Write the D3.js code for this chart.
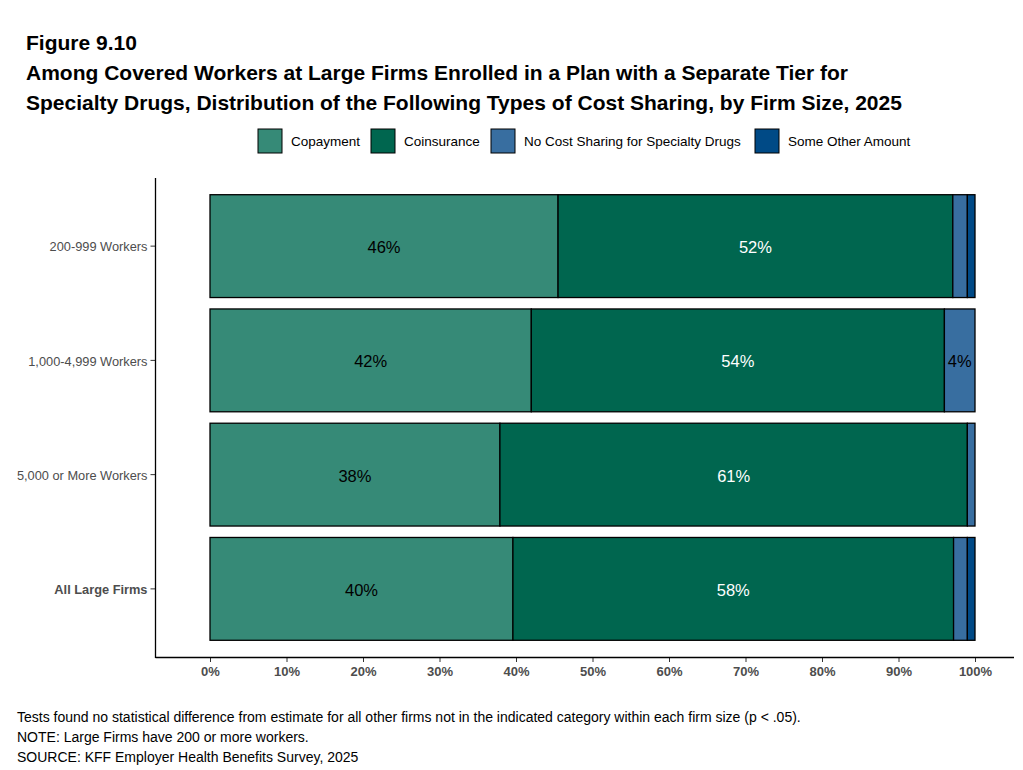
<!DOCTYPE html>
<html><head><meta charset="utf-8">
<script src="https://cdn.jsdelivr.net/npm/d3@7"></script>
<style>body{margin:0;background:#fff;font-family:"Liberation Sans",Arial,sans-serif;}</style>
</head><body><svg id="c" width="1023" height="770"></svg>
<script>
const categories = ["200-999 Workers","1,000-4,999 Workers","5,000 or More Workers","All Large Firms"];
const seriesNames = ["Copayment","Coinsurance","No Cost Sharing for Specialty Drugs","Some Other Amount"];
const copayment = [45.5, 42.0, 37.9, 39.6];
const coinsurance = [51.6, 54.0, 61.1, 57.6];
const noCostSharing = [1.9, 4.0, 1.0, 1.8];
const someOther = [1.0, 0, 0, 1.0];
const xTicks = [0,10,20,30,40,50,60,70,80,90,100];
const colors = ["#368a77","#00664f","#386ea0","#004a86"];
const labelColors = ["#000","#fff","#000","#fff"];

const series = [copayment, coinsurance, noCostSharing, someOther];
const rows = categories.map((c,i)=>{ const o={cat:c}; seriesNames.forEach((s,j)=>o[s]=series[j][i]); return o;});
const stacked = d3.stack().keys(seriesNames)(rows);

const svg = d3.select("#c");
svg.append("text").attr("x",26).attr("y",50).attr("font-size","21px").attr("font-weight","bold").text("Figure 9.10");
svg.append("text").attr("x",26).attr("y",80).attr("font-size","21px").attr("font-weight","bold").text("Among Covered Workers at Large Firms Enrolled in a Plan with a Separate Tier for");
svg.append("text").attr("x",26).attr("y",110).attr("font-size","21px").attr("font-weight","bold").text("Specialty Drugs, Distribution of the Following Types of Cost Sharing, by Firm Size, 2025");

// legend
const legX = [258, 371, 491, 755];
const leg = svg.append("g");
seriesNames.forEach((s,i)=>{
  leg.append("rect").attr("x",legX[i]).attr("y",129).attr("width",24).attr("height",24).attr("fill",colors[i]).attr("stroke","#000").attr("stroke-width",1);
  leg.append("text").attr("x",legX[i]+33).attr("y",146).attr("font-size","13.5px").text(s);
});

const x = d3.scaleLinear().domain([0,100]).range([210,975]);
const y = d3.scaleBand().domain(categories).range([189,646]).paddingInner(0.1).paddingOuter(0.05);

const g = svg.append("g");
stacked.forEach((layer,j)=>{
  g.selectAll(null).data(layer).enter().filter(d=>d[1]-d[0]>0).append("rect")
    .attr("x",d=>x(d[0])).attr("y",d=>y(d.data.cat))
    .attr("width",d=>x(d[1])-x(d[0])).attr("height",y.bandwidth())
    .attr("fill",colors[j]).attr("stroke","#000").attr("stroke-width",1.3);
  g.selectAll(null).data(layer).enter().filter(d=>d[1]-d[0]>=3).append("text")
    .attr("x",d=>(x(d[0])+x(d[1]))/2).attr("y",d=>y(d.data.cat)+y.bandwidth()/2+7)
    .attr("text-anchor","middle").attr("font-size","16.5px").attr("fill",labelColors[j])
    .text(d=>Math.round(d[1]-d[0])+"%");
});

// axes
const xAxis = svg.append("g").attr("transform","translate(0,657)")
  .call(d3.axisBottom(x).tickValues(xTicks).tickFormat(d=>d+"%").tickSize(5).tickSizeOuter(0));
xAxis.select(".domain").remove();
svg.append("line").attr("x1",155.5).attr("x2",1014).attr("y1",657.5).attr("y2",657.5).attr("stroke","#000").attr("stroke-width",1.3);
xAxis.selectAll("text").attr("font-size","13px").attr("font-weight","bold").attr("fill","#4d4d4d").attr("font-family","Liberation Sans, Arial").attr("dy","0.85em");
xAxis.selectAll(".tick line").attr("stroke","#333");

const yAxis = svg.append("g").attr("transform","translate(155.5,0)")
  .call(d3.axisLeft(y).tickSize(5).tickSizeOuter(0));
yAxis.select(".domain").remove();
svg.append("line").attr("x1",155.5).attr("x2",155.5).attr("y1",178).attr("y2",658).attr("stroke","#000").attr("stroke-width",1.3);
yAxis.selectAll("text").attr("font-size","12.8px").attr("fill","#4d4d4d").attr("font-family","Liberation Sans, Arial")
  .attr("font-weight",d=>d==="All Large Firms"?"bold":"normal").attr("dy","0.4em");
yAxis.selectAll(".tick line").attr("stroke","#333");

const notes = ["Tests found no statistical difference from estimate for all other firms not in the indicated category within each firm size (p < .05).",
  "NOTE: Large Firms have 200 or more workers.",
  "SOURCE: KFF Employer Health Benefits Survey, 2025"];
notes.forEach((t,i)=>svg.append("text").attr("x",17).attr("y",722+i*20).attr("font-size","14px").text(t));
</script></body></html>
